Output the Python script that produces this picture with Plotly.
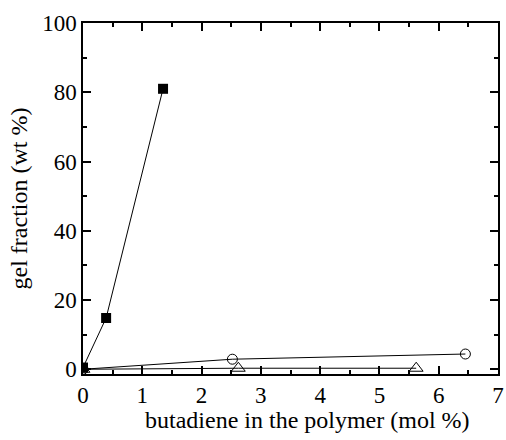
import plotly.graph_objects as go

sq_x = [0, 0.39, 1.35]
sq_y = [0.5, 14.8, 81.0]
ci_x = [0, 2.52, 6.45]
ci_y = [0, 2.9, 4.4]
tr_x = [0, 2.62, 5.62]
tr_y = [0, 0.3, 0.3]

x_title = "butadiene in the polymer (mol %)"
y_title = "gel fraction (wt %)"

FONT = "Liberation Serif, Times New Roman, serif"

fig = go.Figure()
fig.add_trace(go.Scatter(x=ci_x, y=ci_y, mode="lines+markers",
                         line=dict(color="black", width=1),
                         marker=dict(symbol="circle-open", size=10, color="black", line=dict(width=1))))
fig.add_trace(go.Scatter(x=tr_x, y=tr_y, mode="lines+markers",
                         line=dict(color="black", width=1),
                         marker=dict(symbol="triangle-up-open", size=12, color="black", line=dict(width=1))))
fig.add_trace(go.Scatter(x=sq_x, y=sq_y, mode="lines+markers",
                         line=dict(color="black", width=1),
                         marker=dict(symbol="square", size=10, color="black")))

axis_common = dict(showline=True, linecolor="black", linewidth=1.5, mirror="ticks",
                   ticks="inside", ticklen=8, tickwidth=1.5, tickcolor="black",
                   showgrid=False, zeroline=False, ticklabeloverflow="allow",
                   tickfont=dict(family=FONT, size=23, color="black"))

fig.update_layout(
    width=506, height=440,
    margin=dict(l=83, r=2, t=23, b=66),
    paper_bgcolor="white", plot_bgcolor="white",
    showlegend=False,
    font=dict(family=FONT, color="black"),
    xaxis=dict(range=[0, 7], dtick=1, tick0=0,
               minor=dict(ticks="inside", ticklen=4, dtick=0.5, tickcolor="black", tickwidth=1.5),
               **axis_common),
    yaxis=dict(range=[-1.37, 100], dtick=20, tick0=0,
               minor=dict(ticks="inside", ticklen=4, dtick=10, tickcolor="black", tickwidth=1.5),
               title=dict(text=y_title, font=dict(family=FONT, size=24, color="black"), standoff=8),
               **axis_common),
    annotations=[dict(text=x_title, xref="paper", yref="paper", x=0.54, y=-0.13,
                      xanchor="center", yanchor="middle", showarrow=False,
                      font=dict(family=FONT, size=24, color="black"))],
)

fig.write_html("out.html")
